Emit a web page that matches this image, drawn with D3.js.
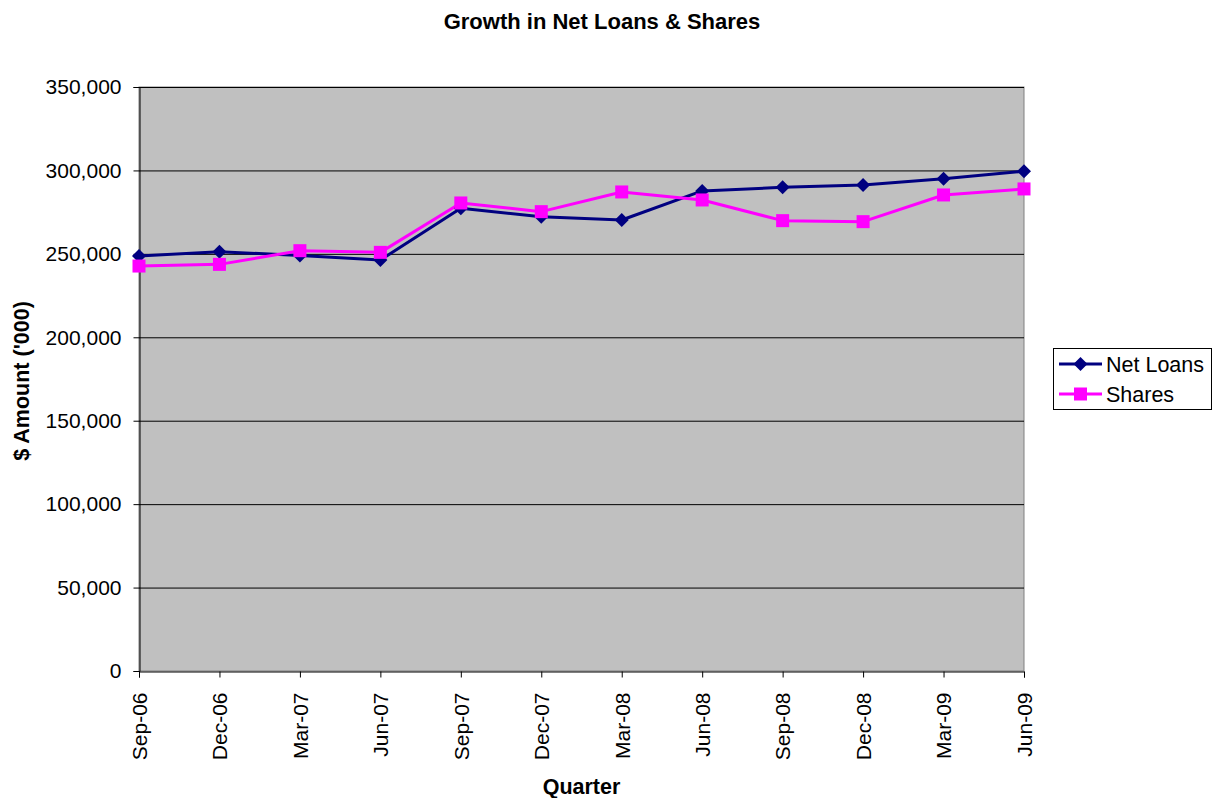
<!DOCTYPE html>
<html>
<head>
<meta charset="utf-8">
<script src="https://cdn.jsdelivr.net/npm/d3@7"></script>
<style>
  html, body { margin: 0; padding: 0; background: #fff; }
  svg { display: block; font-family: Arial, "Liberation Sans", sans-serif; }
</style>
</head>
<body>
<svg id="chart" width="1217" height="798"></svg>
<script>
const quarters = ["Sep-06","Dec-06","Mar-07","Jun-07","Sep-07","Dec-07","Mar-08","Jun-08","Sep-08","Dec-08","Mar-09","Jun-09"];
const netLoans = [248700, 251300, 249000, 246300, 277300, 272300, 270300, 287700, 289900, 291300, 295000, 299500];
const shares   = [242700, 243700, 251900, 250900, 280500, 275300, 287100, 282300, 269900, 269300, 285300, 288900];
const yTicks = [0, 50000, 100000, 150000, 200000, 250000, 300000, 350000];
const seriesNames = ["Net Loans", "Shares"];
const seriesColors = ["#000080", "#ff00ff"];

const svg = d3.select("#chart");
const L = 139, R = 1024, T = 87, B = 671;

const x = d3.scalePoint().domain(quarters).range([L, R]);
const y = d3.scaleLinear().domain([0, 350000]).range([B, T]);

// plot background
svg.append("rect").attr("x", L).attr("y", T).attr("width", R - L).attr("height", B - T)
  .attr("fill", "#c0c0c0").attr("stroke", "#808080").attr("stroke-width", 1);

// gridlines
svg.append("g").selectAll("line").data(yTicks.filter(d => d > 0)).join("line")
  .attr("x1", L).attr("x2", R)
  .attr("y1", d => y(d) + 0.5).attr("y2", d => y(d) + 0.5)
  .attr("stroke", "#000").attr("stroke-width", 1);

// y axis
const yAxis = svg.append("g").attr("transform", `translate(${L + 0.5},0)`)
  .call(d3.axisLeft(y).tickValues(yTicks).tickSize(6).tickPadding(12).tickFormat(d3.format(",")));
yAxis.select(".domain").attr("stroke", "#000");
yAxis.selectAll(".tick line").attr("stroke", "#000");
yAxis.selectAll("text").attr("font-size", 21).attr("fill", "#000")
  .attr("font-family", "Arial, 'Liberation Sans', sans-serif");

// x axis
const xAxis = svg.append("g").attr("transform", `translate(0,${B + 0.5})`)
  .call(d3.axisBottom(x).tickSize(6).tickPadding(0));
xAxis.select(".domain").attr("stroke", "#000");
xAxis.selectAll(".tick line").attr("stroke", "#000");
xAxis.selectAll("text")
  .attr("font-size", 21).attr("fill", "#000")
  .attr("font-family", "Arial, 'Liberation Sans', sans-serif")
  .attr("transform", "rotate(-90)")
  .attr("text-anchor", "end")
  .attr("x", -21).attr("y", 0).attr("dy", "0.35em");

const series = [netLoans, shares];
const line = d3.line().x((d, i) => x(quarters[i])).y(d => y(d));

series.forEach((vals, si) => {
  svg.append("path").datum(vals).attr("d", line)
    .attr("fill", "none").attr("stroke", seriesColors[si]).attr("stroke-width", 3)
    .attr("stroke-linejoin", "round");
});

function marker(g, si) {
  if (si === 0) {
    g.append("path").attr("d", "M0,-7L7,0L0,7L-7,0Z").attr("fill", seriesColors[0]);
  } else {
    g.append("rect").attr("x", -6.5).attr("y", -6.5).attr("width", 13).attr("height", 13).attr("fill", seriesColors[1]);
  }
}

series.forEach((vals, si) => {
  vals.forEach((v, i) => {
    const g = svg.append("g").attr("transform", `translate(${x(quarters[i])},${y(v)})`);
    marker(g, si);
  });
});

// title
svg.append("text").attr("x", 602).attr("y", 29).attr("text-anchor", "middle")
  .attr("font-size", 22).attr("font-weight", "bold").text("Growth in Net Loans & Shares");

// axis titles
svg.append("text").attr("x", (L + R) / 2).attr("y", 794).attr("text-anchor", "middle")
  .attr("font-size", 21.5).attr("font-weight", "bold").text("Quarter");
svg.append("text").attr("transform", "translate(29,381) rotate(-90)").attr("text-anchor", "middle")
  .attr("font-size", 21.5).attr("font-weight", "bold").text("$ Amount ('000)");

// legend
const lg = svg.append("g");
lg.append("rect").attr("x", 1053.5).attr("y", 348.5).attr("width", 158).attr("height", 61)
  .attr("fill", "#fff").attr("stroke", "#000").attr("stroke-width", 1);
const legendY = [364, 394];
seriesNames.forEach((name, si) => {
  lg.append("line").attr("x1", 1059).attr("x2", 1102).attr("y1", legendY[si]).attr("y2", legendY[si])
    .attr("stroke", seriesColors[si]).attr("stroke-width", 3);
  const g = lg.append("g").attr("transform", `translate(1080.5,${legendY[si]})`);
  marker(g, si);
  lg.append("text").attr("x", 1106).attr("y", legendY[si]).attr("dy", "0.36em")
    .attr("font-size", 21.5).text(name);
});
</script>
</body>
</html>
